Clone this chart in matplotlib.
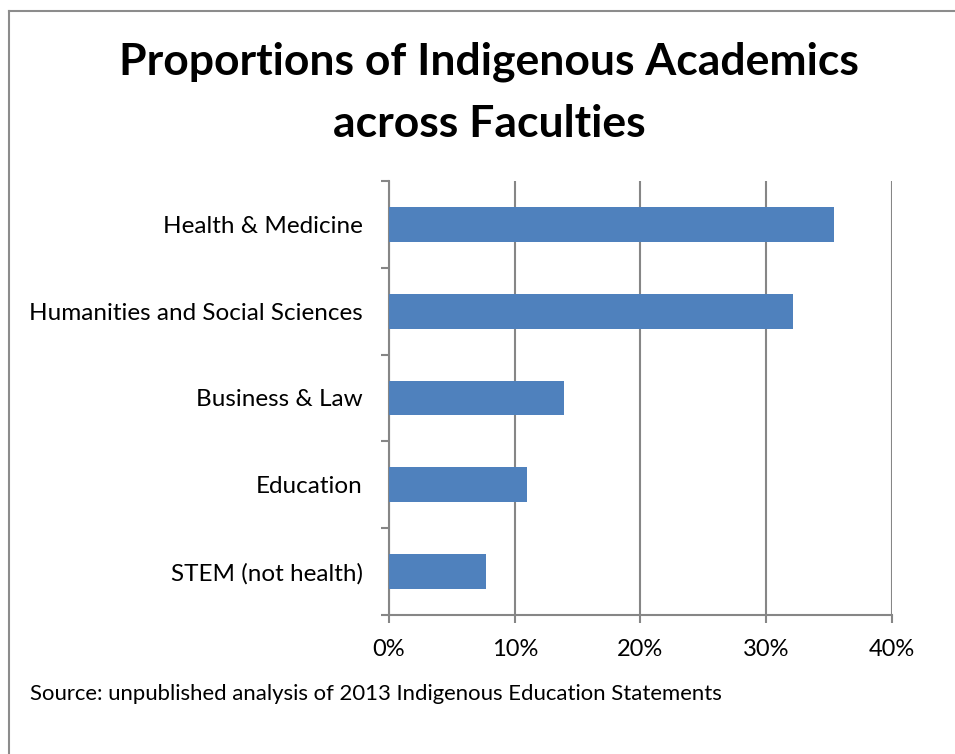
import numpy as np
import matplotlib.pyplot as plt
from matplotlib.lines import Line2D
from matplotlib.ticker import FuncFormatter, FixedLocator

plt.rcParams['font.family'] = ['Lato', 'DejaVu Sans']

# dati (percentuali)
facolta = ['STEM (not health)', 'Education', 'Business & Law',
           'Humanities and Social Sciences', 'Health & Medicine']
quote = [7.7, 11.0, 13.9, 32.1, 35.4]
tick_x = [0, 10, 20, 30, 40]

colore_barre = '#4F81BD'
grigio = '#868686'

fig = plt.figure(figsize=(9.55, 7.54), dpi=100)
ax = fig.add_axes([0.4073, 0.1844, 0.5267, 0.5756])

pos = np.arange(len(facolta))
ax.barh(pos, quote, height=0.4, color=colore_barre, zorder=3)

ax.set_xlim(0, 40)
ax.set_ylim(-0.5, len(facolta) - 0.5)
ax.set_xticks(tick_x)
ax.xaxis.set_major_formatter(FuncFormatter(lambda v, p: f'{v:.0f}%'))
ax.set_yticks(pos)
ax.set_yticklabels(facolta)
ax.yaxis.set_minor_locator(FixedLocator(np.arange(-0.5, len(facolta), 1)))

ax.grid(axis='x', color=grigio, linewidth=1.5, zorder=0)
for lato in ['top', 'right']:
    ax.spines[lato].set_visible(False)
for lato in ['left', 'bottom']:
    ax.spines[lato].set_color(grigio)
    ax.spines[lato].set_linewidth(1.5)

ax.tick_params(axis='y', which='major', length=0, pad=19, labelsize=17.5)
ax.tick_params(axis='y', which='minor', length=6, width=1.5, color=grigio)
ax.tick_params(axis='x', length=6, width=1.5, color=grigio, pad=11, labelsize=17)

# titolo e nota
fig.text(0.512, 0.877, 'Proportions of Indigenous Academics\nacross Faculties',
         ha='center', va='center', fontsize=32, fontweight='bold',
         linespacing=1.65)
fig.text(0.031, 0.080, 'Source: unpublished analysis of 2013 Indigenous Education Statements',
         ha='left', va='center', fontsize=15.9)

# cornice grigia (solo bordo sinistro e superiore visibili)
fig.add_artist(Line2D([9 / 955, 9 / 955], [0, 1 - 11 / 754],
                      transform=fig.transFigure, color='#8c8c8c', linewidth=1.5))
fig.add_artist(Line2D([9 / 955, 1], [1 - 11 / 754, 1 - 11 / 754],
                      transform=fig.transFigure, color='#8c8c8c', linewidth=1.5))

fig.savefig('out.png', dpi=100)
